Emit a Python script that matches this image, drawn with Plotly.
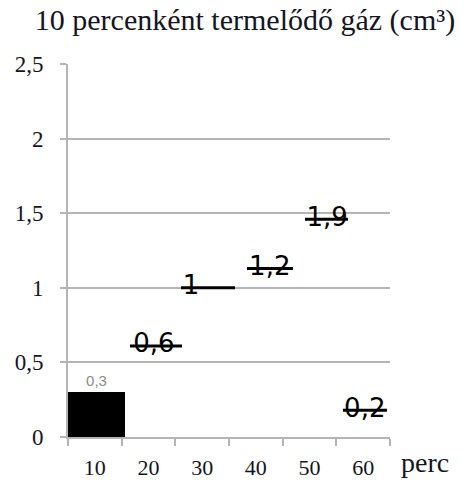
import plotly.graph_objects as go

# ---- data ----
categories = [10, 20, 30, 40, 50, 60]          # perc
bar_category = [10]
bar_values = [0.3]
bar_labels = ["0,3"]
seg_categories = [20, 30, 40, 50, 60]
seg_values = [0.61, 1.0, 1.13, 1.46, 0.18]    # drawn heights
seg_labels = ["0,6", "1", "1,2", "1,9", "0,2"]
y_ticks = [0, 0.5, 1, 1.5, 2, 2.5]

# ---- layout helpers (positions relative to category centre, axis units) ----
seg_start = [-3.45, -3.95, -1.65, -0.84, -3.76]
seg_end = [6.24, 6.12, 6.92, 7.17, 4.44]
label_dx = [1.0, -2.1, 2.6, 3.3, 0.3]

GRID = "#b4b4b4"
TXT = "#15151f"
SERIF = "Liberation Serif, Times New Roman, serif"

fig = go.Figure()

fig.add_trace(go.Bar(
    x=bar_category, y=bar_values, width=[10.6], offset=[-5],
    marker=dict(color="black", line=dict(width=0)),
    text=bar_labels, textposition="outside", cliponaxis=False,
    textfont=dict(family="Liberation Sans, Arial, sans-serif", size=15, color="#8a8a8a"),
    showlegend=False, hoverinfo="skip",
))

for c, v, s, e in zip(seg_categories, seg_values, seg_start, seg_end):
    fig.add_trace(go.Scatter(
        x=[c + s, c + e], y=[v, v], mode="lines",
        line=dict(color="black", width=3),
        showlegend=False, hoverinfo="skip",
    ))

fig.add_trace(go.Scatter(
    x=[c + d for c, d in zip(seg_categories, label_dx)], y=seg_values,
    mode="text", text=seg_labels, textposition="middle center",
    textfont=dict(family="DejaVu Sans, sans-serif", size=26, color="black"),
    showlegend=False, hoverinfo="skip", cliponaxis=False,
))

fig.update_layout(
    width=466, height=483,
    margin=dict(l=68, r=76, t=64, b=46, autoexpand=False),
    paper_bgcolor="white", plot_bgcolor="white",
    separators=", ",
    bargap=0,
    title=dict(text="10 percenként termelődő gáz (cm³)",
               x=245 / 466, y=1 - 19 / 483, xanchor="center", yanchor="middle",
               font=dict(family=SERIF, size=30, color=TXT)),
    xaxis=dict(
        range=[5, 65], tickmode="array", tickvals=categories,
        ticktext=[str(c) for c in categories], ticks="", automargin=False,
        showgrid=False, zeroline=False,
        showline=True, linecolor=GRID, linewidth=2, layer="below traces",
        tickfont=dict(family=SERIF, size=22, color=TXT),
        ticklabelstandoff=10,
        minor=dict(tickmode="array", tickvals=[5, 15, 25, 35, 45, 55, 65],
                   ticks="outside", ticklen=7, tickwidth=2, tickcolor=GRID,
                   showgrid=False),
    ),
    yaxis=dict(
        range=[0, 2.5], tickmode="array", tickvals=y_ticks, automargin=False,
        ticks="outside", ticklen=6, tickwidth=2, tickcolor=GRID,
        showgrid=True, gridcolor=GRID, gridwidth=2, zeroline=False,
        showline=True, linecolor=GRID, linewidth=2, layer="below traces",
        tickfont=dict(family=SERIF, size=23, color=TXT),
        ticklabelstandoff=12,
    ),
    annotations=[dict(text="perc", xref="paper", yref="paper",
                      x=(425 - 68) / 322, y=(437 - 462) / 373,
                      xanchor="center", yanchor="middle", showarrow=False,
                      font=dict(family=SERIF, size=28, color=TXT))],
)

fig.write_html("out.html",
               config={"displayModeBar": False},
               post_script="document.body.style.margin='0px';"
                           "document.body.style.overflow='hidden';")
